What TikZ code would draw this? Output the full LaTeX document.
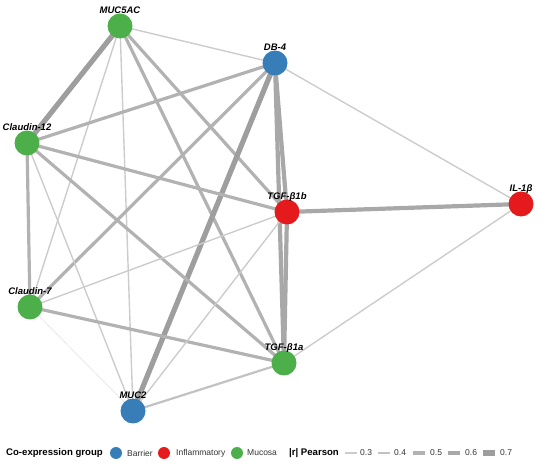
\documentclass[tikz,border=0pt]{standalone}
\usepackage{fontspec}
\setmainfont{Liberation Sans}
\usetikzlibrary{backgrounds}
\definecolor{barrier}{HTML}{377EB8}
\definecolor{inflam}{HTML}{E41A1C}
\definecolor{mucosa}{HTML}{4DAF4A}
\begin{document}
\begin{tikzpicture}[x=1pt,y=-1pt,
  gnode/.style={circle,minimum size=25pt,inner sep=0pt,draw=none},
  lab/.style={font=\fontsize{9.5}{10}\selectfont\bfseries\itshape,inner sep=0pt,text height=7pt,text depth=0pt},
  w2/.style={line width=0.5pt,draw=black!13},
  w3/.style={line width=1.4pt,draw=black!20},
  w4/.style={line width=2.2pt,draw=black!24},
  w5/.style={line width=3.2pt,draw=black!30},
  w6/.style={line width=4.2pt,draw=black!34},
  w7/.style={line width=5.2pt,draw=black!38},
  legtitle/.style={font=\fontsize{9.6}{10}\selectfont\bfseries,anchor=west,inner sep=0pt},
  legtext/.style={font=\fontsize{8.5}{9}\selectfont,text=black!80,anchor=west,inner sep=0pt},
  legdot/.style={circle,minimum size=12pt,inner sep=0pt}]
\useasboundingbox (0,0) rectangle (550,465);
% nodes
\node[gnode,fill=mucosa,label={[lab]above:MUC5AC}] (muc5ac) at (120,26) {};
\node[gnode,fill=barrier,label={[lab]above:DB-4}] (db4) at (275,63) {};
\node[gnode,fill=mucosa,label={[lab]above:Claudin-12}] (cl12) at (27,143) {};
\node[gnode,fill=inflam,label={[lab]above:TGF-β1b}] (tgfb) at (287,212) {};
\node[gnode,fill=inflam,label={[lab]above:IL-1β}] (il1b) at (521,204) {};
\node[gnode,fill=mucosa,label={[lab]above:Claudin-7}] (cl7) at (30,307) {};
\node[gnode,fill=mucosa,label={[lab]above:TGF-β1a}] (tgfa) at (284,363) {};
\node[gnode,fill=barrier,label={[lab]above:MUC2}] (muc2) at (133,411) {};
% edges
\begin{scope}[on background layer]
\draw[w3] (muc5ac.center) -- (db4.center);
\draw[w7] (muc5ac.center) -- (cl12.center);
\draw[w3] (muc5ac.center) -- (cl7.center);
\draw[w3] (muc5ac.center) -- (muc2.center);
\draw[w5] (muc5ac.center) -- (tgfb.center);
\draw[w5] (muc5ac.center) -- (tgfa.center);
\draw[w5] (db4.center) -- (cl12.center);
\draw[w5] (db4.center) -- (cl7.center);
\draw[w7] (db4.center) -- (muc2.center);
\draw[w6] (db4.center) -- (tgfb.center);
\draw[w6] (db4.center) -- (tgfa.center);
\draw[w3] (db4.center) -- (il1b.center);
\draw[w5] (cl12.center) -- (cl7.center);
\draw[w5] (cl12.center) -- (tgfb.center);
\draw[w5] (cl12.center) -- (tgfa.center);
\draw[w3] (cl12.center) -- (muc2.center);
\draw[w3] (cl7.center) -- (tgfb.center);
\draw[w5] (cl7.center) -- (tgfa.center);
\draw[w2] (cl7.center) -- (muc2.center);
\draw[w6] (tgfb.center) -- (il1b.center);
\draw[w6] (tgfb.center) -- (tgfa.center);
\draw[w3] (tgfb.center) -- (muc2.center);
\draw[w3] (tgfa.center) -- (il1b.center);
\draw[w4] (tgfa.center) -- (muc2.center);
\end{scope}
% legend
\node[legtitle] (lgt1) at (6,453) {Co-expression group};
\node[legdot,fill=barrier] (ld1) at (116,453) {};
\node[legtext] (lt1) at (127,453) {Barrier};
\node[legdot,fill=inflam] (ld2) at (164,453) {};
\node[legtext] (lt2) at (176,453) {Inflammatory};
\node[legdot,fill=mucosa] (ld3) at (237,453) {};
\node[legtext] (lt3) at (247,453) {Mucosa};
\node[legtitle] (lgt2) at (289,453) {|r| Pearson};
\coordinate (k3a) at (345,453); \coordinate (k3b) at (357,453);
\draw[w3] (k3a) -- (k3b);
\node[legtext] (kt3) at (360,453) {0.3};
\coordinate (k4a) at (378,453); \coordinate (k4b) at (390,453);
\draw[w4] (k4a) -- (k4b);
\node[legtext] (kt4) at (394,453) {0.4};
\coordinate (k5a) at (413,453); \coordinate (k5b) at (425,453);
\draw[w5] (k5a) -- (k5b);
\node[legtext] (kt5) at (430,453) {0.5};
\coordinate (k6a) at (448,453); \coordinate (k6b) at (460,453);
\draw[w6] (k6a) -- (k6b);
\node[legtext] (kt6) at (465,453) {0.6};
\coordinate (k7a) at (483,453); \coordinate (k7b) at (495,453);
\draw[w7] (k7a) -- (k7b);
\node[legtext] (kt7) at (500,453) {0.7};
\end{tikzpicture}
\end{document}
